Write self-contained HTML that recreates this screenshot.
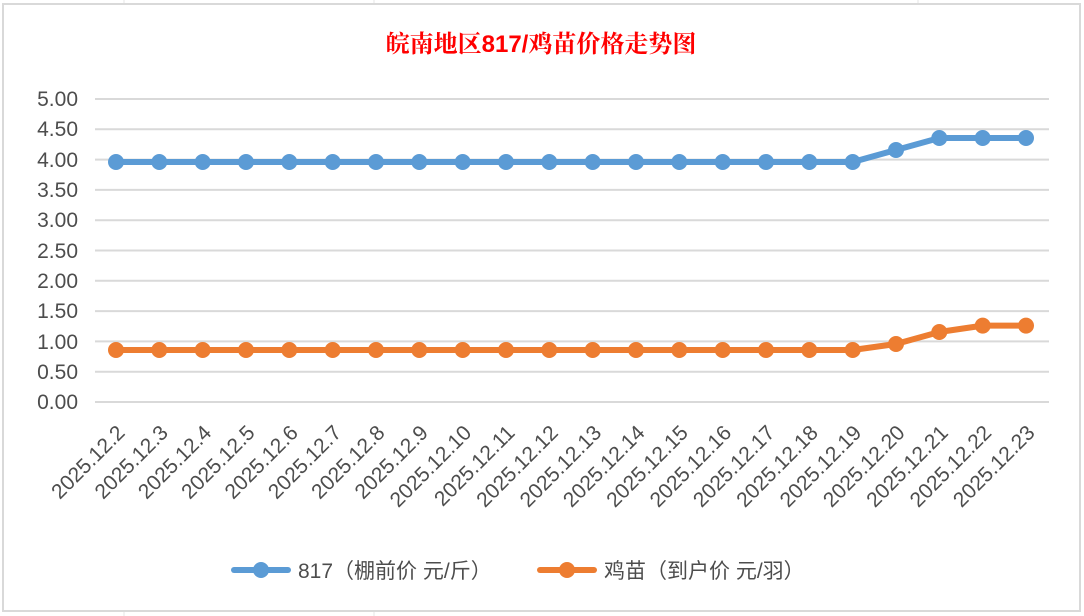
<!DOCTYPE html>
<html><head><meta charset="utf-8"><style>
body{margin:0;background:#fff}
svg{display:block}
text{font-family:"Liberation Sans","Noto Sans CJK SC",sans-serif;fill:#4d4d4d}
</style></head><body>
<svg width="1084" height="616" viewBox="0 0 1084 616">
<rect x="0" y="0" width="1084" height="616" fill="#fff"/>
<g stroke="#e6e6e6" stroke-width="1">
<line x1="124" y1="0" x2="124" y2="4"/><line x1="374" y1="0" x2="374" y2="4"/><line x1="918" y1="0" x2="918" y2="4"/>
<line x1="124" y1="611" x2="124" y2="616"/><line x1="374" y1="611" x2="374" y2="616"/>
</g>
<rect x="3" y="4" width="1077" height="607" fill="#fff" stroke="#d9d9d9" stroke-width="2"/>
<text x="541" y="52" text-anchor="middle" font-weight="bold" style="fill:#ff0000;font-size:24px;font-family:'Liberation Serif','Noto Serif CJK SC',serif">皖南地区<tspan style="font-family:'Liberation Sans',sans-serif">817/</tspan>鸡苗价格走势图</text>
<g stroke="#d9d9d9" stroke-width="2">
<line x1="95" y1="99" x2="1049" y2="99"/><line x1="95" y1="129.3" x2="1049" y2="129.3"/><line x1="95" y1="159.6" x2="1049" y2="159.6"/><line x1="95" y1="189.9" x2="1049" y2="189.9"/><line x1="95" y1="220.2" x2="1049" y2="220.2"/><line x1="95" y1="250.5" x2="1049" y2="250.5"/><line x1="95" y1="280.8" x2="1049" y2="280.8"/><line x1="95" y1="311.1" x2="1049" y2="311.1"/><line x1="95" y1="341.4" x2="1049" y2="341.4"/><line x1="95" y1="371.7" x2="1049" y2="371.7"/><line x1="95" y1="402" x2="1049" y2="402"/>
</g>
<g style="font-size:21px" text-anchor="end">
<text x="78" y="106">5.00</text><text x="78" y="136">4.50</text><text x="78" y="167">4.00</text><text x="78" y="197">3.50</text><text x="78" y="227">3.00</text><text x="78" y="258">2.50</text><text x="78" y="288">2.00</text><text x="78" y="318">1.50</text><text x="78" y="349">1.00</text><text x="78" y="379">0.50</text><text x="78" y="409">0.00</text>
</g>
<polyline fill="none" stroke="#5b9bd5" stroke-width="6" stroke-linejoin="round" points="116,162 159.3,162 202.7,162 246,162 289.3,162 332.7,162 376,162 419.3,162 462.7,162 506,162 549.3,162 592.7,162 636,162 679.3,162 722.7,162 766,162 809.3,162 852.7,162 896,150 939.3,138 982.7,138 1026,138"/>
<g fill="#5b9bd5">
<circle cx="116" cy="162" r="8"/><circle cx="159.3" cy="162" r="8"/><circle cx="202.7" cy="162" r="8"/><circle cx="246" cy="162" r="8"/><circle cx="289.3" cy="162" r="8"/><circle cx="332.7" cy="162" r="8"/><circle cx="376" cy="162" r="8"/><circle cx="419.3" cy="162" r="8"/><circle cx="462.7" cy="162" r="8"/><circle cx="506" cy="162" r="8"/><circle cx="549.3" cy="162" r="8"/><circle cx="592.7" cy="162" r="8"/><circle cx="636" cy="162" r="8"/><circle cx="679.3" cy="162" r="8"/><circle cx="722.7" cy="162" r="8"/><circle cx="766" cy="162" r="8"/><circle cx="809.3" cy="162" r="8"/><circle cx="852.7" cy="162" r="8"/><circle cx="896" cy="150" r="8"/><circle cx="939.3" cy="138" r="8"/><circle cx="982.7" cy="138" r="8"/><circle cx="1026" cy="138" r="8"/>
</g>
<polyline fill="none" stroke="#ed7d31" stroke-width="6" stroke-linejoin="round" points="116,350 159.3,350 202.7,350 246,350 289.3,350 332.7,350 376,350 419.3,350 462.7,350 506,350 549.3,350 592.7,350 636,350 679.3,350 722.7,350 766,350 809.3,350 852.7,350 896,344 939.3,332 982.7,325.6 1026,325.6"/>
<g fill="#ed7d31">
<circle cx="116" cy="350" r="8"/><circle cx="159.3" cy="350" r="8"/><circle cx="202.7" cy="350" r="8"/><circle cx="246" cy="350" r="8"/><circle cx="289.3" cy="350" r="8"/><circle cx="332.7" cy="350" r="8"/><circle cx="376" cy="350" r="8"/><circle cx="419.3" cy="350" r="8"/><circle cx="462.7" cy="350" r="8"/><circle cx="506" cy="350" r="8"/><circle cx="549.3" cy="350" r="8"/><circle cx="592.7" cy="350" r="8"/><circle cx="636" cy="350" r="8"/><circle cx="679.3" cy="350" r="8"/><circle cx="722.7" cy="350" r="8"/><circle cx="766" cy="350" r="8"/><circle cx="809.3" cy="350" r="8"/><circle cx="852.7" cy="350" r="8"/><circle cx="896" cy="344" r="8"/><circle cx="939.3" cy="332" r="8"/><circle cx="982.7" cy="325.6" r="8"/><circle cx="1026" cy="325.6" r="8"/>
</g>
<g style="font-size:21px" text-anchor="end">
<text transform="translate(126,434) rotate(-45)">2025.12.2</text>
<text transform="translate(169.3,434) rotate(-45)">2025.12.3</text>
<text transform="translate(212.7,434) rotate(-45)">2025.12.4</text>
<text transform="translate(256,434) rotate(-45)">2025.12.5</text>
<text transform="translate(299.3,434) rotate(-45)">2025.12.6</text>
<text transform="translate(342.7,434) rotate(-45)">2025.12.7</text>
<text transform="translate(386,434) rotate(-45)">2025.12.8</text>
<text transform="translate(429.3,434) rotate(-45)">2025.12.9</text>
<text transform="translate(472.7,434) rotate(-45)">2025.12.10</text>
<text transform="translate(516,434) rotate(-45)">2025.12.11</text>
<text transform="translate(559.3,434) rotate(-45)">2025.12.12</text>
<text transform="translate(602.7,434) rotate(-45)">2025.12.13</text>
<text transform="translate(646,434) rotate(-45)">2025.12.14</text>
<text transform="translate(689.3,434) rotate(-45)">2025.12.15</text>
<text transform="translate(732.7,434) rotate(-45)">2025.12.16</text>
<text transform="translate(776,434) rotate(-45)">2025.12.17</text>
<text transform="translate(819.3,434) rotate(-45)">2025.12.18</text>
<text transform="translate(862.7,434) rotate(-45)">2025.12.19</text>
<text transform="translate(906,434) rotate(-45)">2025.12.20</text>
<text transform="translate(949.3,434) rotate(-45)">2025.12.21</text>
<text transform="translate(992.7,434) rotate(-45)">2025.12.22</text>
<text transform="translate(1036,434) rotate(-45)">2025.12.23</text>
</g>
<line x1="234" y1="570" x2="288" y2="570" stroke="#5b9bd5" stroke-width="6" stroke-linecap="round"/>
<circle cx="261" cy="570" r="8" fill="#5b9bd5"/>
<text x="298" y="578" style="font-size:21px">817（棚前价 元/斤）</text>
<line x1="540" y1="570" x2="594" y2="570" stroke="#ed7d31" stroke-width="6" stroke-linecap="round"/>
<circle cx="567" cy="570" r="8" fill="#ed7d31"/>
<text x="604" y="578" style="font-size:21px">鸡苗（到户价 元/羽）</text>
</svg>
</body></html>
